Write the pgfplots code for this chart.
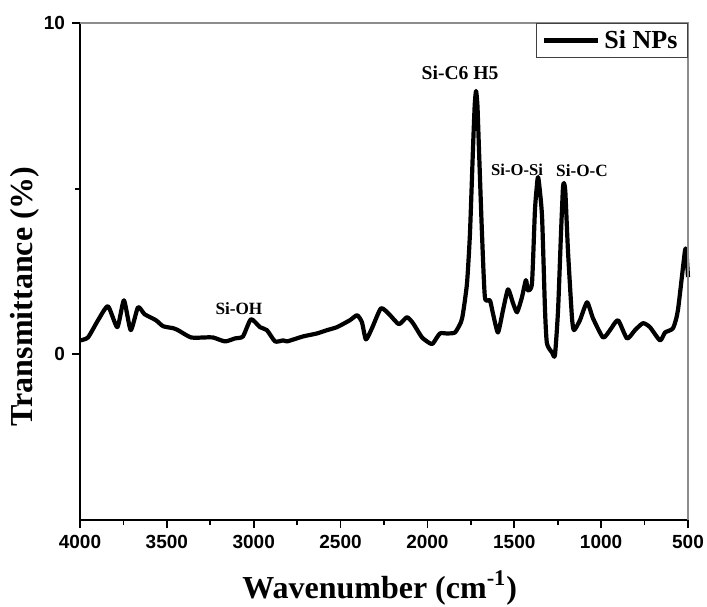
\documentclass[border=0pt]{standalone}
\usepackage{fontspec}
\setmainfont{Liberation Serif}
\newfontfamily\arialfont{Liberation Sans}
\usepackage{pgfplots}
\pgfplotsset{compat=1.18}

\begin{document}
\begin{tikzpicture}
  % fixed page frame: 707x606 px at 0.5pt per px
  \path[use as bounding box] (-40pt,-43pt) rectangle (313.5pt,260pt);
  \begin{axis}[
      at={(0,0)}, anchor=south west,
      scale only axis,
      width=304pt, height=248.5pt,
      x dir=reverse,
      xmin=500, xmax=4000,
      ymin=-5, ymax=10,
      axis lines=left,
      axis line style={-, line width=1pt},
      xtick={500,1000,...,4000},
      minor xtick={750,1250,...,3750},
      ytick={0,10},
      minor ytick={5},
      tick align=outside,
      major tick length=4pt,
      minor tick length=2.5pt,
      tick style={line width=0.9pt, black},
      /pgf/number format/assume math mode=true,
      /pgf/number format/1000 sep={},
      tick label style={font=\arialfont\bfseries\fontsize{9.5}{11}\selectfont},
      xlabel={Wavenumber (cm\textsuperscript{-1})},
      ylabel={Transmittance (\%)},
      xlabel style={at={(axis description cs:0.493,-0.158)}, anchor=base,
        font=\bfseries\fontsize{16}{18}\selectfont},
      ylabel style={at={(axis description cs:-0.09,0.45)}, anchor=center,
        font=\bfseries\fontsize{16}{18}\selectfont},
      legend style={at={(rel axis cs:1,1)}, anchor=north east,
        draw=black!75, line width=0.6pt, inner xsep=3pt, inner ysep=1.2pt,
        font=\bfseries\fontsize{13}{15}\selectfont},
      legend image code/.code={\draw[#1] (0pt,0pt) -- (27pt,0pt);},
      clip=false,
    ]
    \addplot[black, line width=2.1pt, smooth, tension=0.35, line join=round]
      coordinates {
        (4000,0.42) (3954,0.51) (3896,1.03) (3839,1.45) (3785,0.82)
        (3747,1.63) (3708,0.73) (3666,1.42) (3628,1.21) (3563,1.03)
        (3522,0.85) (3465,0.79) (3436,0.73) (3361,0.51) (3280,0.51)
        (3234,0.51) (3165,0.39) (3108,0.48) (3062,0.54) (3016,1.06)
        (2964,0.82) (2924,0.73) (2877,0.39) (2831,0.42) (2808,0.39)
        (2716,0.54) (2636,0.63) (2578,0.73) (2521,0.82) (2446,1.03)
        (2405,1.18) (2377,0.97) (2354,0.45) (2319,0.79) (2267,1.39)
        (2215,1.18) (2164,0.91) (2118,1.12) (2083,0.94) (2031,0.51)
        (1985,0.33) (1968,0.33) (1928,0.63) (1887,0.63) (1841,0.66)
        (1807,0.97) (1795,1.24) (1772,2.15) (1755,3.66) (1738,6.16)
        (1728,7.5) (1720,7.95) (1712,7.5) (1703,6.16) (1686,3.66)
        (1669,1.72) (1640,1.63) (1623,1.24) (1594,0.66) (1565,1.33)
        (1536,1.96) (1507,1.54) (1484,1.27) (1456,1.72) (1433,2.24)
        (1421,1.93) (1398,2.15) (1381,4.35) (1368,5.2) (1363,5.35)
        (1356,5.1) (1340,4.14) (1323,1.33) (1312,0.33) (1283,0.06)
        (1266,-0.03) (1248,1.33) (1231,3.66) (1220,5.0) (1214,5.17)
        (1206,4.9) (1191,3.14) (1168,1.12) (1156,0.73) (1122,1.03)
        (1081,1.57) (1047,1.09) (989,0.51) (949,0.73) (903,1.03)
        (851,0.48) (805,0.73) (759,0.94) (719,0.82) (661,0.42)
        (632,0.66) (586,0.79) (558,1.33) (517,3.14) (508,3.0) (500,2.33)
      };
    \addlegendentry{Si NPs}

    % thin grey top and right frame
    \draw[black!45, line width=0.6pt] (rel axis cs:0,1) -- (rel axis cs:1,1) -- (rel axis cs:1,0);

    % band labels
    \node[font=\bfseries\fontsize{9.8}{11}\selectfont] at (axis cs:1812,8.49) {Si-C6 H5};
    \node[font=\bfseries\fontsize{8.3}{10}\selectfont] at (axis cs:1484,5.56) {Si-O-Si};
    \node[font=\bfseries\fontsize{8.6}{10}\selectfont] at (axis cs:1110,5.53) {Si-O-C};
    \node[font=\bfseries\fontsize{8.6}{10}\selectfont] at (axis cs:3085,1.39) {Si-OH};
  \end{axis}
\end{tikzpicture}
\end{document}
